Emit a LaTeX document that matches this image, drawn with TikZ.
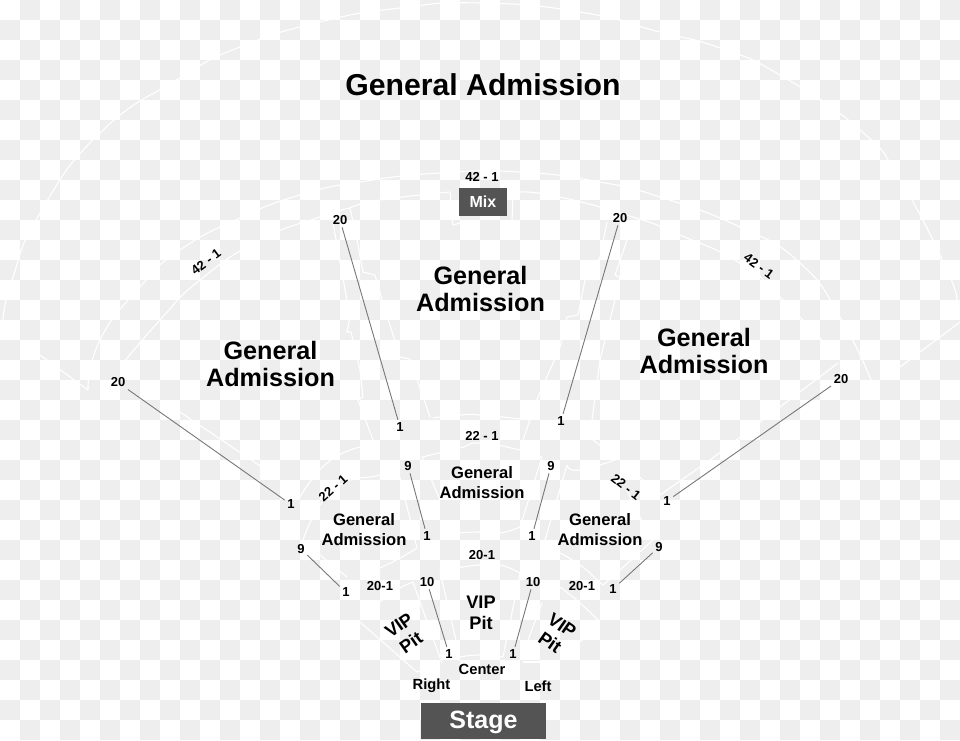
\documentclass[tikz,border=0pt]{standalone}
\usepackage{fontspec}
\setmainfont{Liberation Sans}
\definecolor{chk}{HTML}{EEEEEE}
\definecolor{boxc}{HTML}{545454}
\definecolor{leader}{HTML}{777777}
\tikzset{
  seat/.style={white,line width=1.1pt,line join=round},
  arcline/.style={seat,smooth,tension=0.9},
  lab/.style={font=\bfseries\fontsize{13}{15}\selectfont,inner sep=2.5pt,text=black},
  labwide/.style={font=\bfseries\fontsize{14.7}{16}\selectfont,inner sep=2pt,text=black},
  gabig/.style={font=\bfseries\fontsize{25.2}{27}\selectfont,align=center,inner sep=0pt,text=black},
  gasmall/.style={font=\bfseries\fontsize{16.6}{20}\selectfont,align=center,inner sep=0pt,text=black},
  vip/.style={font=\bfseries\fontsize{18.2}{21}\selectfont,align=center,inner sep=0pt,text=black},
  leaderline/.style={leader,line width=0.9pt},
  blackbox/.style={fill=boxc,text=white,inner sep=0pt,anchor=center}
}
\begin{document}
\begin{tikzpicture}[x=1pt,y=-1pt]
\useasboundingbox (0,0) rectangle (960,740);
\clip (0,0) rectangle (960,740);
% checkerboard
\foreach \r in {0,...,36}{
  \foreach \c in {0,...,47}{
    \pgfmathparse{int(mod(\r+\c,2))}
    \ifnum\pgfmathresult=1
      \fill[chk] (\c*20,\r*20) rectangle ++(20,20);
    \fi
  }
}
% white outlines: outer arcs
\draw[arcline] plot coordinates {(3,320) (12,280) (40,213) (100,133) (180,78) (240,47) (320,22) (400,8) (480,3) (580,12) (660,32) (720,48) (780,75) (860,130) (900,180) (947,270) (956,300)};
\draw[arcline] plot coordinates {(88,390) (100,340) (140,287) (180,250) (240,218) (300,195) (360,182) (440,173) (520,172) (600,182) (660,197) (740,227) (800,263) (840,317) (871,380)};
\draw[seat] (40,355) -- (88,390);
\draw[seat] (960,322) -- (900,367);
% inner GA arcs
\draw[arcline] plot coordinates {(120,367) (160,320) (200,280) (260,240) (320,217) (350,208)};
\draw[arcline] plot coordinates {(350,208) (380,200) (450,192)};
\draw[arcline] plot coordinates {(520,192) (560,197) (633,217) (680,235) (740,263) (780,297) (840,360)};
\draw[seat] (450,192) -- (453,225) -- (460,223);
\draw[seat] (513,192) -- (512,222) -- (500,223);
% jagged aisle lines, left
\draw[seat] (350,208) -- (357,240) -- (363,272) -- (375,275) -- (382,300) -- (400,357) -- (410,359) -- (430,417);
\draw[seat] (333,223) -- (350,317) -- (347,332) -- (351,332) -- (360,370) -- (363,397) -- (358,400) -- (373,440);
% jagged aisle lines, right
\draw[seat] (607,222) -- (600,257) -- (585,280) -- (578,315) -- (567,317) -- (560,347) -- (547,377) -- (538,397) -- (523,440);
\draw[seat] (627,240) -- (615,275) -- (620,277) -- (615,300) -- (600,360) -- (592,420);
% side edges
\draw[seat] (180,412) -- (278,478);
\draw[seat] (838,363) -- (710,460) -- (660,495);
% mid level
\draw[arcline] plot coordinates {(300,497) (327,463) (360,447)};
\draw[arcline] plot coordinates {(433,418) (460,415) (480,415) (530,420)};
\draw[arcline] plot coordinates {(422,457) (460,448) (480,443) (520,450) (542,457)};
\draw[arcline] plot coordinates {(303,540) (333,490) (380,475) (398,470)};
\draw[seat] (398,470) -- (417,548);
\draw[arcline] plot coordinates {(380,568) (400,558) (417,548)};
\draw[seat] (303,540) -- (320,555) -- (347,577);
\draw[seat] (422,457) -- (440,500);
\draw[arcline] plot coordinates {(460,533) (480,532) (500,533) (520,527)};
\draw[seat] (542,457) -- (520,527);
\draw[seat] (567,465) -- (545,540);
\draw[arcline] plot coordinates {(567,465) (580,470) (620,458)};
\draw[seat] (593,440) -- (620,460) -- (643,480) -- (660,495);
\draw[arcline] plot coordinates {(627,490) (640,517) (653,540)};
\draw[seat] (653,540) -- (620,570) -- (603,585) -- (595,578);
\draw[arcline] plot coordinates {(560,553) (580,565) (595,578)};
% lower level
\draw[arcline] plot coordinates {(380,602) (396,590) (413,582)};
\draw[seat] (413,582) -- (430,630) -- (442,663);
\draw[seat] (360,622) -- (417,672) -- (440,663);
\draw[arcline] plot coordinates {(440,572) (457,568) (480,565) (500,565) (520,573)};
\draw[seat] (440,572) -- (460,657);
\draw[arcline] plot coordinates {(460,657) (480,655) (503,657)};
\draw[seat] (520,573) -- (503,657);
\draw[arcline] plot coordinates {(560,587) (580,603) (600,622)};
\draw[seat] (600,622) -- (580,642);
\draw[seat] (560,662) -- (523,662);
\draw[seat] (542,603) -- (528,640);
% boxes
\node[blackbox,minimum width=48pt,minimum height=28pt,font=\bfseries\fontsize{16}{18}\selectfont] (mix) at (483,202) {Mix};
\node[blackbox,minimum width=125pt,minimum height=36pt,text height=15pt,text depth=0pt,font=\bfseries\fontsize{25}{28}\selectfont] (stage) at (483.5,721) {Stage};
% big text
\node[font=\bfseries\fontsize{30.2}{34}\selectfont,inner sep=0pt] (gatop) at (483,85) {General Admission};
\node[gabig] (gal) at (270.5,364) {General\\Admission};
\node[gabig] (gac) at (480.5,289) {General\\Admission};
\node[gabig] (gar) at (704,351) {General\\Admission};
\node[gasmall] (gam) at (482,482.5) {General\\Admission};
\node[gasmall] (gaml) at (364,529.5) {General\\Admission};
\node[gasmall] (gamr) at (600,529.5) {General\\Admission};
\node[vip] (vipc) at (481,613) {VIP\\Pit};
\node[vip,rotate=35] (vipl) at (405,634) {VIP\\Pit};
\node[vip,rotate=-35] (vipr) at (556,634) {VIP\\Pit};
% section labels
\node[lab] (s42c) at (482,177) {42 - 1};
\node[lab,rotate=37] (s42l) at (206,262) {42 - 1};
\node[lab,rotate=-36] (s42r) at (759,266) {42 - 1};
\node[lab] (s22c) at (482,436) {22 - 1};
\node[lab,rotate=42] (s22l) at (333,488) {22 - 1};
\node[lab,rotate=-38] (s22r) at (626,487) {22 - 1};
\node[lab] (s20c) at (482,555) {20-1};
\node[lab] (s20l) at (380,586) {20-1};
\node[lab] (s20r) at (582,586) {20-1};
\node[labwide] (center) at (482,669.5) {Center};
\node[labwide] (right) at (431.5,686) {Right};
\node[labwide] (left) at (538,686) {Left};
% row labels
\node[lab] (a20) at (118,382.5) {20};
\node[lab] (a1) at (291,504.5) {1};
\node[lab] (b20) at (340,220) {20};
\node[lab] (b1) at (400,427) {1};
\node[lab] (c20) at (620,218) {20};
\node[lab] (c1) at (561,421) {1};
\node[lab] (d20) at (841,379) {20};
\node[lab] (d1) at (667,501) {1};
\node[lab] (e9) at (408,466) {9};
\node[lab] (e1) at (427,536) {1};
\node[lab] (f9) at (551,466) {9};
\node[lab] (f1) at (532,536) {1};
\node[lab] (g9) at (301,549) {9};
\node[lab] (g1) at (346,592.5) {1};
\node[lab] (h9) at (659,547) {9};
\node[lab] (h1) at (613,589) {1};
\node[lab] (i10) at (427,582) {10};
\node[lab] (i1) at (449,654) {1};
\node[lab] (j10) at (533,582) {10};
\node[lab] (j1) at (513,654) {1};
% leaders
\draw[leaderline] (a20) -- (a1);
\draw[leaderline] (b20) -- (b1);
\draw[leaderline] (c20) -- (c1);
\draw[leaderline] (d20) -- (d1);
\draw[leaderline] (e9) -- (e1);
\draw[leaderline] (f9) -- (f1);
\draw[leaderline] (g9) -- (g1);
\draw[leaderline] (h9) -- (h1);
\draw[leaderline] (i10) -- (i1);
\draw[leaderline] (j10) -- (j1);
\end{tikzpicture}
\end{document}
